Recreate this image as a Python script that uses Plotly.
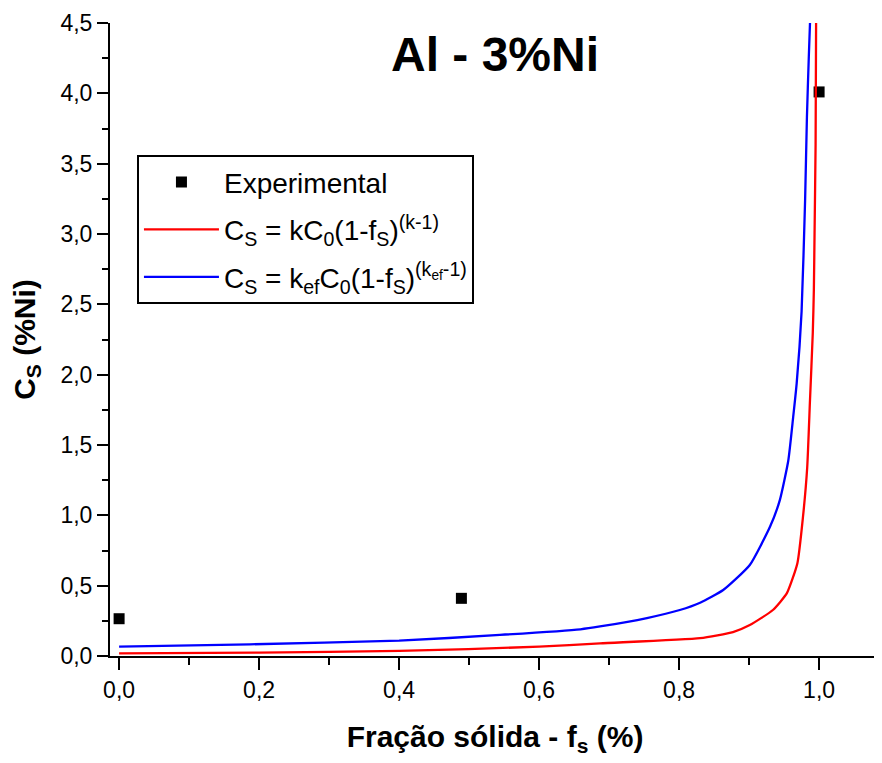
import plotly.graph_objects as go

# Experimental points
exp_x = [0.0, 0.489, 1.0]
exp_y = [0.265, 0.41, 4.01]

# Red curve (k)
red_x = [0.0, 0.2, 0.4, 0.6, 0.687, 0.83, 0.877, 0.901, 0.934, 0.954, 0.969, 0.977,
         0.983, 0.987, 0.991, 0.9925, 0.9935, 0.995, 0.9957]
red_y = [0.018, 0.024, 0.036, 0.066, 0.09, 0.127, 0.17, 0.22, 0.327, 0.447, 0.66, 0.99,
         1.34, 1.82, 2.30, 2.6, 3.0, 3.64, 4.5]

# Blue curve (k_ef)
blue_x = [0.0, 0.187, 0.40, 0.544, 0.659, 0.687, 0.754, 0.801, 0.83, 0.863, 0.901, 0.930,
          0.944, 0.956, 0.963, 0.968, 0.975, 0.980, 0.9826, 0.9853, 0.987]
blue_y = [0.066, 0.083, 0.109, 0.15, 0.19, 0.21, 0.27, 0.327, 0.379, 0.469, 0.647, 0.92,
          1.11, 1.39, 1.70, 1.94, 2.45, 3.24, 3.83, 4.26, 4.5]

x_ticks = [0.0, 0.2, 0.4, 0.6, 0.8, 1.0]
y_ticks = [0.0, 0.5, 1.0, 1.5, 2.0, 2.5, 3.0, 3.5, 4.0, 4.5]

FONT = "Liberation Sans, Arial, sans-serif"

fig = go.Figure()
fig.add_trace(go.Scatter(x=exp_x, y=exp_y, mode="markers", name="Experimental",
                         legendgroup="a",
                         marker=dict(symbol="square", size=11, color="black"),
                         cliponaxis=False))
fig.add_trace(go.Scatter(x=red_x, y=red_y, mode="lines", legendgroup="b",
                         name="C<sub>S</sub> = kC<sub>0</sub>(1-f<sub>S</sub>)<sup>(k-1)</sup>",
                         line=dict(color="#ff0000", width=2.3, shape="spline", smoothing=0.5)))
fig.add_trace(go.Scatter(x=blue_x, y=blue_y, mode="lines", legendgroup="c",
                         name="C<sub>S</sub> = k<sub>ef</sub>C<sub>0</sub>(1-f<sub>S</sub>)<sup>(k<sub>ef</sub>-1)</sup>",
                         line=dict(color="#0000ff", width=2.3, shape="spline", smoothing=0.5)))

fig.update_layout(
    width=882, height=763,
    margin=dict(l=102, r=10, t=15, b=115),
    paper_bgcolor="white", plot_bgcolor="white",
    separators=",.",
    font=dict(family=FONT, color="black", size=23),
    showlegend=True,
    legend=dict(x=0.035, y=0.791, xanchor="left", yanchor="top",
                bordercolor="black", borderwidth=2, bgcolor="white",
                font=dict(size=28, family=FONT), itemwidth=75, tracegroupgap=8),
    annotations=[dict(text="<b>Al - 3%Ni</b>", x=0.5, y=0.951, xref="paper", yref="paper",
                      xanchor="center", yanchor="middle", showarrow=False,
                      font=dict(size=48, family=FONT))],
)
fig.update_xaxes(range=[-0.013, 1.087], tickvals=x_ticks, tickformat=".1f",
                 showline=True, linecolor="black", linewidth=2, mirror=False,
                 ticks="outside", ticklen=12, tickwidth=2, tickcolor="black",
                 minor=dict(dtick=0.1, tick0=0, ticks="outside", ticklen=7, tickwidth=2, tickcolor="black"),
                 showgrid=False, zeroline=False, tickfont=dict(size=23), automargin=False,
                 title=dict(text="<b>Fração sólida - f<sub>s</sub> (%)</b>", font=dict(size=30), standoff=24))
fig.update_yaxes(range=[0, 4.5], tickvals=y_ticks, tickformat=".1f",
                 showline=True, linecolor="black", linewidth=2, mirror=False,
                 ticks="outside", ticklen=11, tickwidth=2, tickcolor="black",
                 minor=dict(dtick=0.25, tick0=0, ticks="outside", ticklen=6, tickwidth=2, tickcolor="black"),
                 showgrid=False, zeroline=False, tickfont=dict(size=23), automargin=False,
                 title=dict(text="<b>C<sub>S</sub> (%Ni)</b>", font=dict(size=30), standoff=18))

fig.write_html("out.html")
